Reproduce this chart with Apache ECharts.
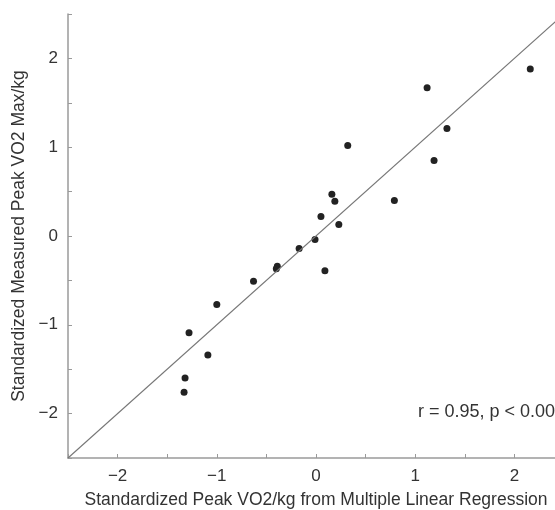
<!DOCTYPE html>
<html>
<head>
<meta charset="utf-8">
<script src="https://cdn.jsdelivr.net/npm/echarts@6/dist/echarts.min.js"></script>
<style>html,body{margin:0;padding:0;background:#fff;overflow:hidden}#c{width:555px;height:510px}</style>
</head>
<body>
<div id="c"></div>
<script>
var predicted = [2.16, 1.12, 1.32, 1.19, 0.79, 0.32, 0.16, 0.19, 0.05, 0.23, -0.01, -0.17, 0.09, -0.39, -0.40, -0.63, -1.00, -1.28, -1.09, -1.32, -1.33];
var measured  = [1.88, 1.67, 1.21, 0.85, 0.40, 1.02, 0.47, 0.39, 0.22, 0.13, -0.04, -0.14, -0.39, -0.34, -0.37, -0.51, -0.77, -1.09, -1.34, -1.60, -1.76];
var identityLine = [[-2.5, -2.5], [2.5, 2.5]];
var xTicks = [-2, -1, 0, 1, 2];
var yTicks = [-2, -1, 0, 1, 2];
var annotation = 'r = 0.95, p < 0.001';
var xTitle = 'Standardized Peak VO2/kg from Multiple Linear Regression';
var yTitle = 'Standardized Measured Peak VO2 Max/kg';

var points = predicted.map(function (x, i) { return [x, measured[i]]; });
function fmt(ticks) {
  return function (v) {
    var r = Math.round(v * 100) / 100;
    if (ticks.indexOf(r) < 0) return '';
    return r < 0 ? '\u2212' + Math.abs(r) : String(r);
  };
}
var font = 'Liberation Sans, Arial, Helvetica, sans-serif';
var axisCommon = {
  type: 'value', min: -2.5, max: 2.5, interval: 0.5,
  splitLine: { show: false },
  axisLine: { show: true, onZero: false, lineStyle: { color: '#9a9a9a', width: 1.5 } },
  axisTick: { show: true, inside: true, length: 4, lineStyle: { color: '#9a9a9a', width: 1 } },
  nameLocation: 'middle',
  nameTextStyle: { fontFamily: font, fontSize: 17.5, color: '#333' }
};
var chart = echarts.init(document.getElementById('c'));
chart.setOption({
  animation: false,
  grid: { left: 68, width: 496, top: 14, height: 444, containLabel: false, outerBoundsMode: 'none' },
  xAxis: Object.assign({}, axisCommon, {
    name: xTitle, nameGap: 33,
    axisLabel: { formatter: fmt(xTicks), margin: 10, fontFamily: font, fontSize: 17, color: '#333' }
  }),
  yAxis: Object.assign({}, axisCommon, {
    name: yTitle, nameGap: 36,
    axisLabel: { formatter: fmt(yTicks), margin: 10, fontFamily: font, fontSize: 17, color: '#333' }
  }),
  series: [
    { type: 'line', data: identityLine, symbol: 'none', lineStyle: { color: '#777', width: 1.1 }, silent: true, clip: true },
    { type: 'scatter', data: points, symbolSize: 7, itemStyle: { color: '#222', opacity: 1 } }
  ],
  graphic: [
    { type: 'text', left: 418, top: 403, style: { text: annotation, fontFamily: font, fontSize: 18, fill: '#333' } }
  ]
});
</script>
</body>
</html>
